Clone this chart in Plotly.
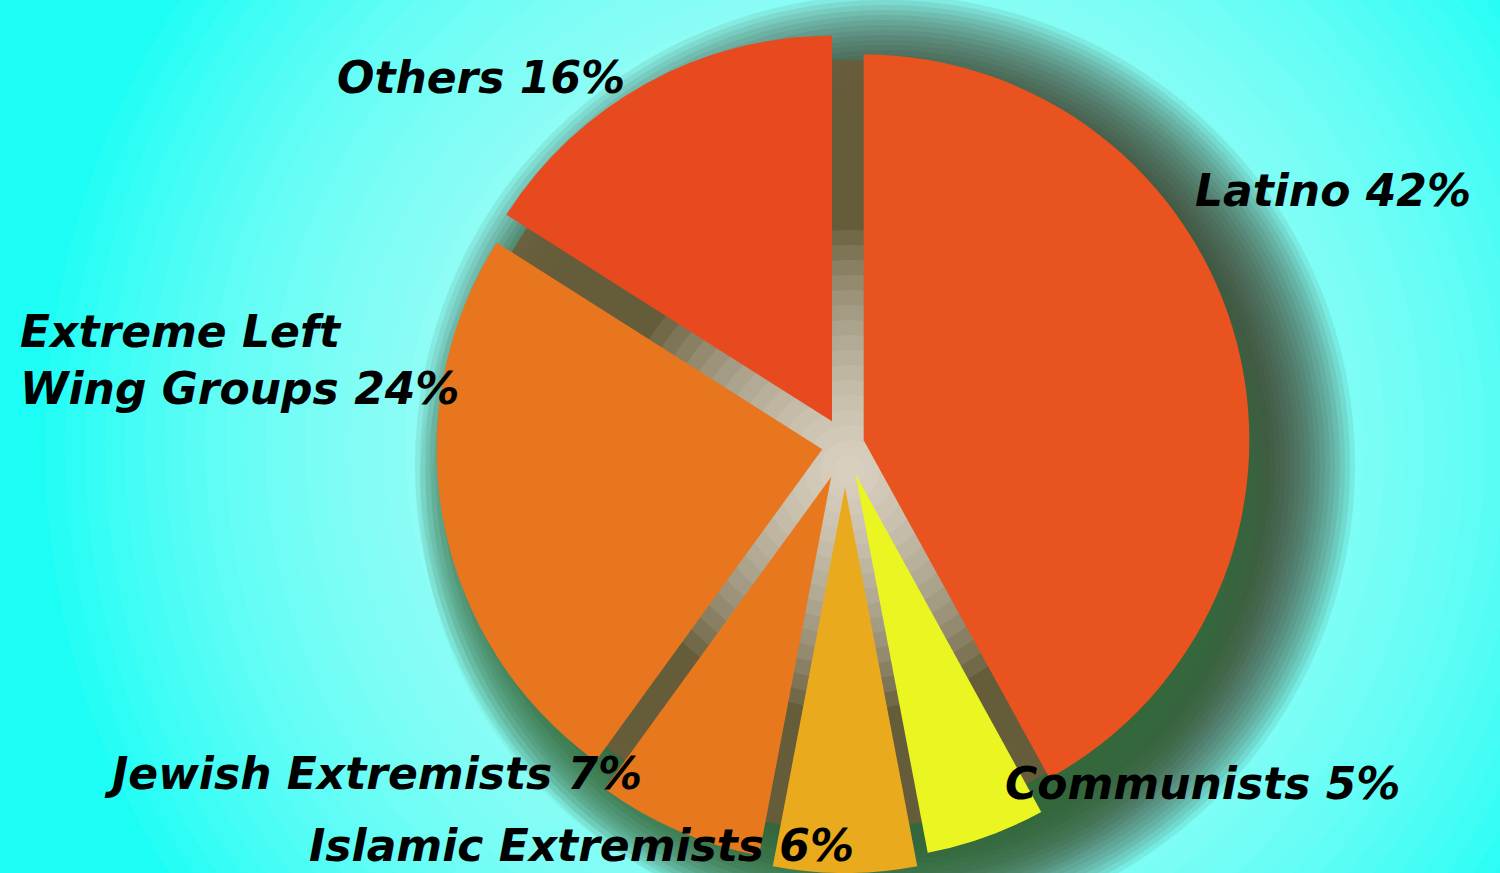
import plotly.graph_objects as go

# ---- data ----
labels = ["Latino", "Communists", "Islamic Extremists", "Jewish Extremists",
          "Extreme Left Wing Groups", "Others"]
values = [42, 5, 6, 7, 24, 16]
colors = ["#E8531F", "#EAF522", "#EAAA1D", "#E8781E", "#E8761E", "#E84A20"]
pulls = [0.05, 0.08, 0.11, 0.09, 0.06, 0.07]

# label placement (pixels from top-left) and anchors
label_pos = {
    "Latino": (1333, 190, "center"),
    "Communists": (1202, 783, "center"),
    "Islamic Extremists": (581, 845, "center"),
    "Jewish Extremists": (373, 773, "center"),
    "Extreme Left Wing Groups": (18, 360, "left"),
    "Others": (481, 77, "center"),
}

W, H = 1500, 873
CX, CY = 845, 445
ax, ay = CX / W, 1 - CY / H

fig = go.Figure()
fig.add_trace(go.Pie(
    labels=labels, values=values, sort=False, direction="clockwise",
    rotation=0, pull=pulls, textinfo="none", hoverinfo="label+percent",
    marker=dict(colors=colors, line=dict(width=0)),
    domain=dict(x=[0.20, 0.9267], y=[0.0, 0.9806]),
    showlegend=False,
))

shapes = []
def circle(r, color, op, dx=0, dy=0):
    shapes.append(dict(
        type="circle", xref="paper", yref="paper",
        xsizemode="pixel", ysizemode="pixel",
        xanchor=ax, yanchor=ay,
        x0=-r + dx, x1=r + dx, y0=-r - dy, y1=r - dy,
        fillcolor=color, opacity=op, line=dict(width=0), layer="below"))

# light cyan halo (smooth)
for r in range(800, 400, -20):
    circle(r, "#D8FFFC", 0.05)
# dark shadow to the lower right
for r in range(470, 380, -5):
    circle(r, "#3B331C", 0.09, dx=40, dy=20)
# greenish shadow at the bottom
for r in range(430, 380, -6):
    circle(r, "#2E7A3A", 0.07, dx=5, dy=45)
# olive/brown core behind gaps
circle(385, "#6E5A3A", 0.85)
# white glow at center
for r in range(240, 10, -15):
    circle(r, "#FFF6EE", 0.09, dx=5, dy=25)

annotations = []
for lab, val in zip(labels, values):
    px, py, anchor = label_pos[lab]
    txt = lab.replace("Left ", "Left<br>") + f" {val}%"
    annotations.append(dict(
        text=txt, xref="paper", yref="paper", x=px / W, y=1 - py / H,
        xanchor=anchor, yanchor="middle", align="left", showarrow=False,
        font=dict(family="DejaVu Sans", size=44, color="#000000",
                  weight="bold", style="italic")))

fig.update_layout(
    width=W, height=H, margin=dict(l=0, r=0, t=0, b=0),
    paper_bgcolor="#1CFDF5", plot_bgcolor="#1CFDF5",
    shapes=shapes, annotations=annotations,
)
fig.write_html("out.html", config={"displayModeBar": False},
               post_script="document.body.style.margin='0px';"
                           "document.body.style.overflow='hidden';")
